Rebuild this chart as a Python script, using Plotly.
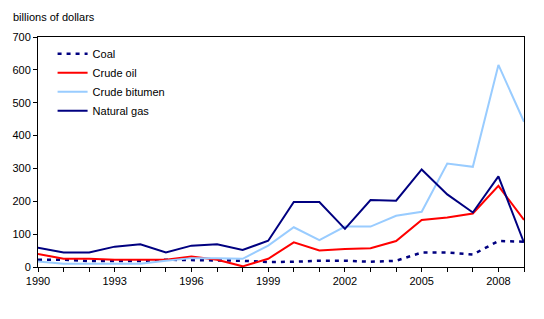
import plotly.graph_objects as go

years = list(range(1990, 2010))
coal = [22, 22, 18, 19, 18, 22, 22, 20, 19, 15, 16, 19, 19, 16, 19, 44, 44, 38, 79, 77]
crude_oil = [40, 25, 25, 22, 22, 22, 32, 22, 2, 25, 75, 50, 55, 57, 79, 143, 151, 163, 247, 143]
crude_bitumen = [17, 10, 10, 10, 10, 19, 27, 27, 25, 65, 121, 82, 123, 123, 156, 168, 315, 305, 615, 442]
natural_gas = [59, 44, 44, 62, 69, 44, 65, 69, 52, 80, 198, 198, 116, 204, 202, 297, 221, 166, 276, 74]
tick_years = [1990, 1993, 1996, 1999, 2002, 2005, 2008]

fig = go.Figure()
fig.add_trace(go.Scatter(x=years, y=coal, name="Coal", mode="lines",
                         line=dict(color="#000080", width=2.5, dash="4px,5px")))
fig.add_trace(go.Scatter(x=years, y=crude_oil, name="Crude oil", mode="lines",
                         line=dict(color="#FF0000", width=2)))
fig.add_trace(go.Scatter(x=years, y=crude_bitumen, name="Crude bitumen", mode="lines",
                         line=dict(color="#99CCFF", width=2)))
fig.add_trace(go.Scatter(x=years, y=natural_gas, name="Natural gas", mode="lines",
                         line=dict(color="#000080", width=2)))

fig.update_layout(
    width=544, height=319,
    margin=dict(l=33, r=20, t=37, b=52),
    paper_bgcolor="white", plot_bgcolor="white",
    font=dict(family="Liberation Sans, Arial, sans-serif", size=11, color="black"),
    showlegend=True,
    legend=dict(x=0.03, y=0.99, xanchor="left", yanchor="top",
                bgcolor="rgba(0,0,0,0)", font=dict(size=11), tracegroupgap=0),
    xaxis=dict(range=[1990, 2009], showgrid=False, zeroline=False,
               showline=True, linecolor="black", linewidth=1, mirror=True,
               ticks="outside", ticklen=4, tickcolor="black",
               tickmode="array", tickangle=0,
               tickvals=years,
               ticktext=[str(y) if y in tick_years else "" for y in years]),
    yaxis=dict(range=[0, 700], showgrid=False, zeroline=False,
               showline=True, linecolor="black", linewidth=1, mirror=True,
               ticks="outside", ticklen=4, tickcolor="black",
               tickvals=[0, 100, 200, 300, 400, 500, 600, 700]),
    annotations=[dict(text="billions of dollars", xref="paper", yref="paper",
                      x=-0.055, y=1.0, xanchor="left", yanchor="bottom", yshift=12,
                      showarrow=False, font=dict(size=11))],
)

fig.write_html("out.html")
